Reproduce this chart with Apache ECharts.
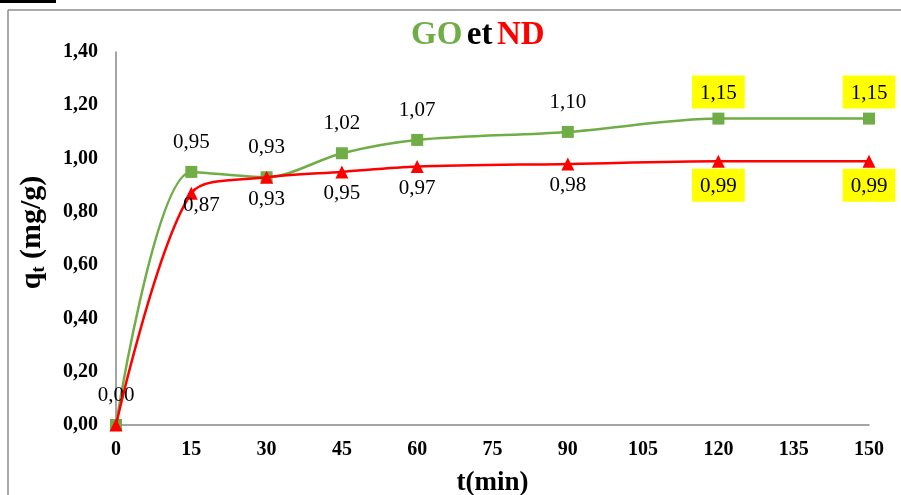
<!DOCTYPE html>
<html>
<head>
<meta charset="utf-8">
<script src="https://cdn.jsdelivr.net/npm/echarts@6/dist/echarts.min.js"></script>
<style>
  html, body { margin: 0; padding: 0; background: #fff; }
  #chart { width: 901px; height: 495px; }
</style>
</head>
<body>
<div id="chart"></div>
<script>
// Adsorption kinetics: q_t (mg/g) versus contact time t (min)
const times = [0, 15, 30, 45, 60, 90, 120, 150];
const goValues = [0.00, 0.95, 0.93, 1.02, 1.07, 1.10, 1.15, 1.15];
const ndValues = [0.00, 0.87, 0.93, 0.95, 0.97, 0.98, 0.99, 0.99];
const xTicks = [0, 15, 30, 45, 60, 75, 90, 105, 120, 135, 150];
const yTicks = [0, 0.2, 0.4, 0.6, 0.8, 1.0, 1.2, 1.4];

const SERIF = '"Liberation Serif", "Times New Roman", serif';
const GREEN = '#70AD47';
const RED = '#FF0000';
const highlighted = [120, 150];

const fmt = v => v.toFixed(2).replace('.', ',');

function buildData(values, isNd) {
  return times.map((t, i) => {
    const item = { value: [t, values[i]] };
    if (highlighted.includes(t)) {
      item.label = { backgroundColor: '#FFFF00', padding: [7, 8, 5, 8], distance: isNd ? 1 : 4 };
    }
    if (isNd && t === 0) item.label = { show: false };
    if (isNd && t === 15) item.label = { offset: [10, -10] };
    return item;
  });
}

const chart = echarts.init(document.getElementById('chart'), null, { renderer: 'canvas' });

chart.setOption({
  animation: false,
  backgroundColor: '#fff',
  textStyle: { fontFamily: SERIF },
  title: {
    text: '{g|GO} {k|et} {r|ND}',
    left: 406,
    top: 14,
    textStyle: {
      rich: {
        g: { color: GREEN, fontSize: 33, fontWeight: 'bold', fontFamily: SERIF },
        k: { color: '#000', fontSize: 33, fontWeight: 'bold', fontFamily: SERIF },
        r: { color: RED, fontSize: 33, fontWeight: 'bold', fontFamily: SERIF }
      }
    }
  },
  graphic: [
    { type: 'rect', shape: { x: 0, y: 0, width: 56, height: 3 }, style: { fill: '#000' } },
    { type: 'line', shape: { x1: 8, y1: 10, x2: 901, y2: 10 }, style: { stroke: '#8c8c8c', lineWidth: 1.5 } },
    { type: 'line', shape: { x1: 8, y1: 10, x2: 8, y2: 495 }, style: { stroke: '#8c8c8c', lineWidth: 1.5 } }
  ],
  grid: { left: 116, right: 32, top: 52, bottom: 70, containLabel: false, outerBoundsMode: 'none' },
  xAxis: {
    type: 'value',
    min: 0,
    max: 150,
    interval: 15,
    name: 't(min)',
    nameLocation: 'middle',
    nameGap: 45,
    nameTextStyle: { fontFamily: SERIF, fontSize: 27, fontWeight: 'bold', color: '#000' },
    axisLine: { show: true, lineStyle: { color: '#868686', width: 1.5 } },
    axisTick: { show: false },
    splitLine: { show: false },
    axisLabel: {
      fontFamily: SERIF, fontSize: 20, fontWeight: 'bold', color: '#000', margin: 15,
      customValues: xTicks,
      formatter: v => String(v)
    }
  },
  yAxis: {
    type: 'value',
    min: 0,
    max: 1.4,
    interval: 0.2,
    name: '{q|q}{s|t}{q| (mg/g)}',
    nameLocation: 'middle',
    nameGap: 68,
    nameRotate: 90,
    nameTextStyle: {
      padding: [0, 0, 0, 12],
      rich: {
        q: { fontFamily: SERIF, fontSize: 30, fontWeight: 'bold', color: '#000' },
        s: { fontFamily: SERIF, fontSize: 18, fontWeight: 'bold', color: '#000', verticalAlign: 'bottom', padding: [14, 0, 0, 0] }
      }
    },
    axisLine: { show: true, lineStyle: { color: '#868686', width: 1.5 } },
    axisTick: { show: false },
    splitLine: { show: false },
    axisLabel: {
      fontFamily: SERIF, fontSize: 20, fontWeight: 'bold', color: '#000', margin: 18,
      customValues: yTicks,
      formatter: v => fmt(v)
    }
  },
  series: [
    {
      name: 'GO',
      type: 'line',
      smooth: 0.3,
      data: buildData(goValues, false),
      symbol: 'rect',
      symbolSize: 12,
      z: 2,
      itemStyle: { color: GREEN },
      lineStyle: { color: GREEN, width: 2.5 },
      label: {
        show: true, position: 'top', distance: 13,
        fontFamily: SERIF, fontSize: 21, color: '#000',
        formatter: p => fmt(p.value[1])
      }
    },
    {
      name: 'ND',
      type: 'line',
      smooth: 0.3,
      data: buildData(ndValues, true),
      symbol: 'triangle',
      symbolSize: 13,
      z: 3,
      itemStyle: { color: RED },
      lineStyle: { color: RED, width: 2.5 },
      label: {
        show: true, position: 'bottom', distance: 5,
        fontFamily: SERIF, fontSize: 21, color: '#000',
        formatter: p => fmt(p.value[1])
      }
    }
  ]
});
</script>
</body>
</html>
